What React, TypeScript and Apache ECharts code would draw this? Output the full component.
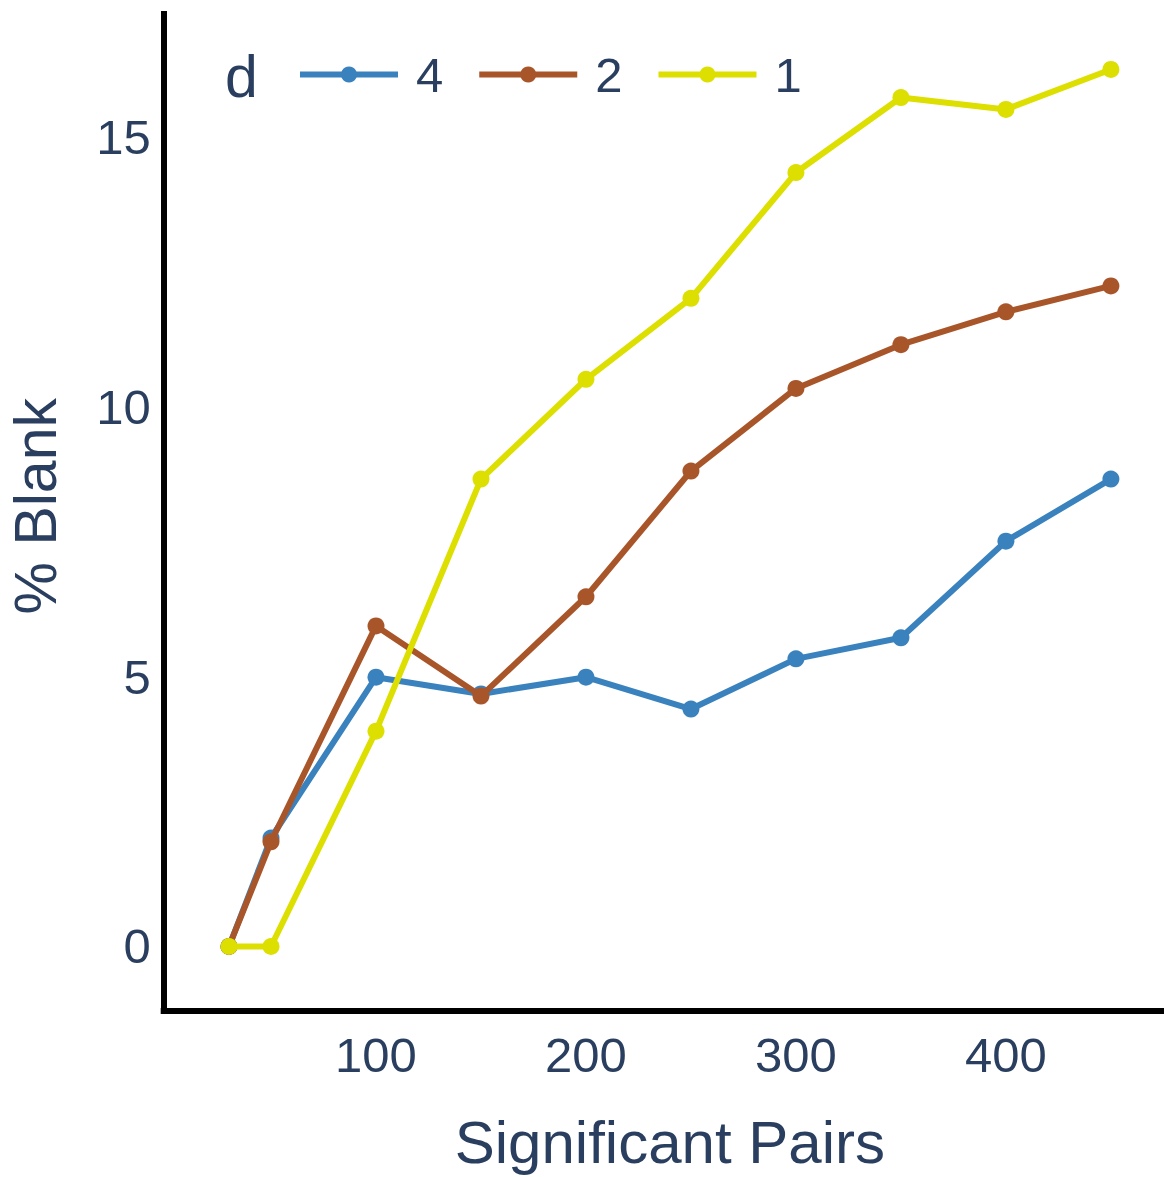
import React, { useEffect, useRef } from 'react';
import * as echarts from 'echarts';

const xValues = [30, 50, 100, 150, 200, 250, 300, 350, 400, 450];
const seriesNames = ['4', '2', '1'];
const d4 = [0, 2.01, 4.99, 4.68, 4.99, 4.4, 5.33, 5.72, 7.51, 8.66];
const d2 = [0, 1.94, 5.94, 4.64, 6.48, 8.81, 10.34, 11.15, 11.76, 12.24];
const d1 = [0, 0, 3.99, 8.66, 10.51, 12.01, 14.34, 15.73, 15.51, 16.25];
const xTicks = [100, 200, 300, 400];
const yTicks = [0, 5, 10, 15];
const colors = ['#3a82be', '#a9552a', '#dddf00'];

const FONT = '"Liberation Sans", Arial, sans-serif';
const TEXT = '#2a3f5f';

export default function App() {
  const ref = useRef<HTMLDivElement>(null);
  useEffect(() => {
    if (!ref.current) return;
    const chart = echarts.init(ref.current, null, { renderer: 'svg' });
    const allData = [d4, d2, d1];
    chart.setOption({
      animation: false,
      backgroundColor: '#ffffff',
      grid: {
        left: 163.7,
        top: 14,
        width: 1012.3,
        height: 996.5,
        containLabel: false,
        outerBoundsMode: 'none',
      },
      legend: {
        left: 292,
        top: 45,
        itemWidth: 98,
        itemHeight: 20,
        itemGap: 33,
        selectedMode: false,
        data: seriesNames,
        textStyle: { fontSize: 49, color: TEXT, fontFamily: FONT, padding: [0, 0, 0, 13] },
        lineStyle: { width: 6 },
        itemStyle: { borderWidth: 0 },
      },
      graphic: [
        {
          type: 'text',
          x: 225,
          y: 77,
          style: {
            text: 'd',
            fontSize: 59,
            fontFamily: FONT,
            fill: TEXT,
            verticalAlign: 'middle',
            align: 'left',
          },
        },
      ],
      xAxis: {
        type: 'value',
        min: -1.1,
        max: 481,
        axisLine: { show: true, onZero: false, lineStyle: { color: '#000', width: 6, cap: 'square' } },
        axisTick: { show: false },
        splitLine: { show: false },
        axisLabel: { customValues: xTicks, fontSize: 49, color: TEXT, fontFamily: FONT, margin: 20 },
        name: 'Significant Pairs',
        nameLocation: 'middle',
        nameGap: 102,
        nameTextStyle: { fontSize: 60, color: TEXT, fontFamily: FONT },
      },
      yAxis: {
        type: 'value',
        min: -1.186,
        max: 17.278,
        axisLine: { show: true, onZero: false, lineStyle: { color: '#000', width: 6, cap: 'square' } },
        axisTick: { show: false },
        splitLine: { show: false },
        axisLabel: { customValues: yTicks, fontSize: 49, color: TEXT, fontFamily: FONT, margin: 13 },
        name: '% Blank',
        nameLocation: 'middle',
        nameGap: 98,
        nameTextStyle: { fontSize: 59, color: TEXT, fontFamily: FONT, padding: [0, 0, 0, 12] },
      },
      series: seriesNames.map((name, si) => ({
        name,
        type: 'line',
        data: xValues.map((x, i) => [x, allData[si][i]]),
        symbol: 'circle',
        symbolSize: 17,
        showSymbol: true,
        color: colors[si],
        lineStyle: { width: 6, color: colors[si] },
        itemStyle: { color: colors[si], borderWidth: 0 },
        z: 2 + si,
      })),
    });
    return () => chart.dispose();
  }, []);
  return (
    <div style={{ position: 'absolute', left: 0, top: 0, width: 1164, height: 1177, overflow: 'hidden', background: '#fff' }}>
      <div ref={ref} style={{ width: 1180, height: 1177 }} />
    </div>
  );
}
